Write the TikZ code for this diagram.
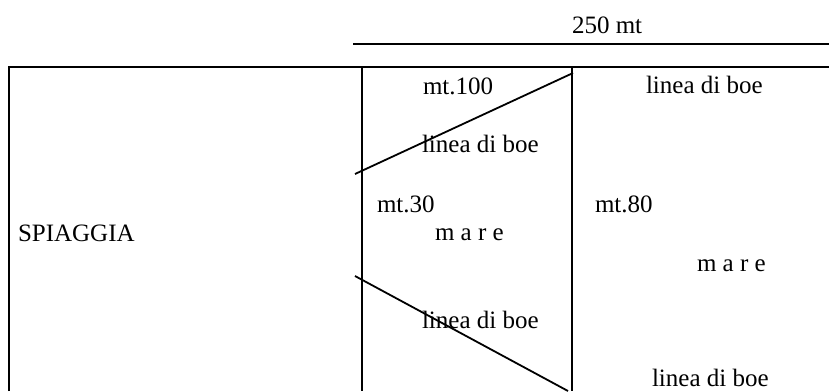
\documentclass[tikz,border=0pt]{standalone}
\usepackage{fontspec}
\setmainfont{Liberation Serif}
\begin{document}
\begin{tikzpicture}[x=1pt,y=-1pt,
  ln/.style={line width=1.8pt,black},
  lbl/.style={anchor=base west,inner sep=0pt,outer sep=0pt,font=\fontsize{25}{30}\selectfont}]
\useasboundingbox (0,0) rectangle (829,391);
% coordinates
\coordinate (dimL) at (353,44);
\coordinate (dimR) at (829,44);
\coordinate (tl) at (9,67);
\coordinate (tr) at (829,67);
\coordinate (bl) at (9,391);
\coordinate (v1t) at (362,67);
\coordinate (v1b) at (362,391);
\coordinate (v2t) at (572,67);
\coordinate (v2b) at (572,391);
\coordinate (d1a) at (355,174);
\coordinate (d1b) at (573,73);
\coordinate (d2a) at (355,276);
\coordinate (d2b) at (568,391);
% lines
\draw[ln] (dimL) -- (dimR);
\draw[ln] (bl) -- (tl) -- (tr);
\draw[ln] (v1t) -- (v1b);
\draw[ln] (v2t) -- (v2b);
\draw[ln] (d1a) -- (d1b);
\draw[ln] (d2a) -- (d2b);
% texts
\node[lbl] (dim) at (572,33) {250 mt};
\node[lbl] (sp) at (18,241) {SPIAGGIA};
\node[lbl] (m100) at (423,94) {mt.100};
\node[lbl] (lb1) at (422,152) {linea di boe};
\node[lbl] (m30) at (377,212) {mt.30};
\node[lbl] (mare1) at (435,240) {m a r e};
\node[lbl] (lb2) at (422,328) {linea di boe};
\node[lbl] (lb3) at (646,93) {linea di boe};
\node[lbl] (m80) at (595,212) {mt.80};
\node[lbl] (mare2) at (697,271) {m a r e};
\node[lbl] (lb4) at (652,386) {linea di boe};
\end{tikzpicture}
\end{document}
